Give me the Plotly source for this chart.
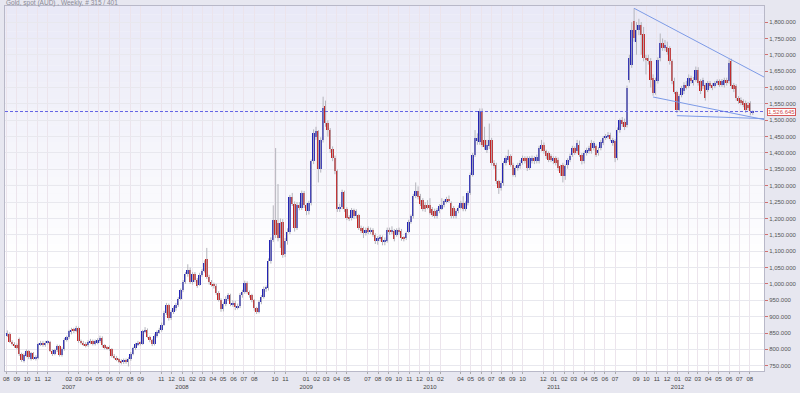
import plotly.graph_objects as go
import pandas as pd

# ---------------- data (weekly Gold spot in AUD) ----------------
first_week = "2006-08-04"

open_ = [842,848,822,818,812,832,785,766,780,794,772,788,772,774,815,821,812,820,823,796,
 786,797,810,783,800,830,838,852,860,857,866,825,820,818,812,822,826,817,822,826,
 836,812,806,808,800,780,775,770,766,760,767,762,770,787,803,815,820,818,855,860,
 838,828,815,840,852,858,876,910,935,895,915,925,935,955,980,1005,1030,1042,1005,1030,
 1012,998,1028,1040,1075,1020,1005,998,995,972,952,922,938,955,966,938,943,928,932,965,
 975,1003,975,965,950,926,915,945,960,985,988,1070,1135,1195,1185,1140,1190,1090,1130,1160,
 1266,1245,1172,1242,1232,1278,1240,1222,1246,1374,1448,1466,1350,1440,1545,1492,1470,1412,1385,1344,
 1228,1235,1280,1228,1202,1200,1226,1206,1210,1172,1170,1155,1170,1160,1165,1150,1130,1138,1142,1128,
 1132,1165,1158,1162,1150,1166,1162,1140,1140,1160,1190,1206,1268,1283,1268,1257,1242,1242,1242,1228,
 1222,1208,1222,1230,1240,1252,1258,1247,1232,1207,1222,1232,1248,1228,1248,1278,1334,1395,1436,1435,
 1527,1440,1410,1420,1440,1370,1364,1313,1293,1308,1369,1378,1390,1364,1334,1354,1360,1370,1384,1384,
 1354,1374,1384,1374,1374,1412,1425,1405,1400,1390,1374,1384,1380,1359,1364,1329,1362,1378,1395,1415,
 1405,1425,1395,1375,1400,1405,1430,1415,1420,1400,1415,1430,1446,1450,1456,1430,1436,1385,1470,1500,
 1495,1486,1624,1670,1802,1740,1777,1790,1765,1690,1690,1680,1629,1583,1619,1690,1736,1720,1725,1720,
 1680,1619,1585,1532,1578,1588,1609,1604,1629,1614,1624,1654,1619,1604,1609,1593,1614,1609,1604,1614,
 1619,1609,1609,1624,1619,1680,1609,1604,1568,1563,1558,1553,1548,1553,1523]

high = [858,852,828,822,818,836,790,788,800,798,792,792,782,820,826,826,826,828,826,800,
 802,815,814,806,835,842,860,866,866,872,870,830,826,822,828,832,830,830,834,842,
 840,816,810,812,804,786,780,774,770,772,772,776,792,808,820,826,824,860,868,864,
 842,832,846,858,866,882,918,942,940,920,932,942,960,986,1012,1036,1060,1050,1036,1036,
 1018,1034,1046,1072,1110,1028,1012,1004,1000,978,956,944,962,972,970,950,948,940,972,982,
 1010,1008,980,970,954,930,950,966,992,995,1078,1142,1240,1415,1305,1200,1198,1140,1170,1272,
 1278,1252,1250,1250,1285,1284,1246,1254,1380,1472,1480,1470,1448,1572,1560,1500,1476,1420,1392,1350,
 1245,1288,1285,1234,1210,1232,1230,1228,1214,1178,1175,1172,1176,1172,1170,1155,1146,1150,1148,1142,
 1172,1172,1176,1168,1170,1172,1168,1146,1160,1196,1212,1275,1310,1298,1275,1262,1250,1256,1262,1235,
 1230,1232,1244,1262,1258,1266,1270,1252,1238,1228,1240,1254,1268,1252,1284,1340,1400,1470,1460,1536,
 1536,1480,1440,1490,1446,1378,1370,1318,1315,1375,1392,1410,1396,1370,1360,1370,1378,1392,1390,1390,
 1390,1392,1390,1395,1422,1440,1432,1410,1405,1396,1390,1390,1386,1364,1370,1365,1384,1398,1422,1420,
 1440,1438,1400,1406,1416,1422,1440,1436,1426,1418,1440,1452,1458,1464,1462,1446,1442,1478,1505,1510,
 1505,1606,1700,1800,1842,1800,1810,1800,1785,1700,1700,1690,1640,1630,1692,1765,1750,1745,1740,1726,
 1686,1630,1590,1580,1605,1616,1620,1640,1636,1632,1664,1662,1625,1630,1614,1620,1620,1614,1620,1625,
 1625,1626,1630,1630,1686,1688,1614,1610,1574,1570,1564,1560,1556,1558,1530]

low = [838,820,812,805,800,780,762,760,776,770,766,768,766,770,810,808,808,815,792,780,
 782,792,778,778,796,824,832,846,850,852,820,815,810,806,808,816,812,812,816,820,
 806,800,798,795,775,770,764,758,754,755,756,748,765,782,798,810,812,814,850,834,
 822,810,812,836,848,854,872,905,888,890,908,918,930,950,975,1000,1022,1000,998,1005,
 988,994,1022,1035,1015,998,992,986,966,946,915,916,932,948,932,930,920,922,926,958,
 970,970,958,944,918,908,910,938,955,976,980,1062,1128,1140,1130,1110,1080,1082,1120,1152,
 1238,1160,1165,1225,1226,1232,1210,1212,1240,1366,1440,1310,1340,1432,1480,1450,1400,1375,1335,1220,
 1220,1228,1220,1195,1192,1194,1198,1200,1165,1155,1140,1148,1152,1152,1144,1122,1120,1130,1118,1118,
 1126,1150,1152,1130,1144,1150,1132,1130,1134,1155,1184,1200,1262,1258,1238,1222,1220,1228,1212,1205,
 1200,1200,1216,1226,1234,1246,1248,1200,1200,1200,1216,1228,1222,1222,1240,1272,1328,1388,1425,1425,
 1418,1410,1400,1412,1362,1352,1305,1275,1285,1300,1362,1372,1358,1328,1326,1346,1352,1364,1368,1345,
 1348,1368,1366,1368,1368,1405,1398,1382,1372,1372,1366,1362,1346,1330,1310,1318,1352,1372,1388,1394,
 1398,1388,1365,1368,1392,1398,1398,1408,1388,1392,1408,1424,1440,1444,1436,1422,1372,1378,1462,1480,
 1470,1478,1615,1660,1740,1700,1760,1700,1680,1640,1670,1600,1575,1578,1612,1680,1712,1712,1700,1670,
 1610,1580,1522,1526,1570,1580,1594,1598,1612,1606,1618,1606,1580,1596,1560,1586,1598,1592,1598,1608,
 1602,1602,1600,1606,1612,1596,1586,1560,1550,1546,1540,1522,1530,1515,1516]

close = [850,824,818,810,804,785,768,782,794,776,788,772,774,815,821,812,821,823,796,786,
 797,810,783,800,830,838,855,860,857,866,825,820,815,812,822,826,817,825,828,836,
 812,806,803,800,780,775,770,763,760,767,762,770,787,803,815,820,817,855,860,838,
 828,815,840,852,858,876,910,935,895,915,925,935,955,980,1005,1030,1042,1005,1030,1012,
 995,1028,1040,1065,1020,1005,998,994,972,952,922,938,955,966,938,943,928,932,965,975,
 1003,975,965,950,926,915,945,960,985,988,1070,1135,1195,1150,1140,1185,1088,1130,1160,1266,
 1245,1172,1240,1232,1278,1240,1222,1246,1374,1460,1466,1350,1440,1537,1492,1470,1412,1385,1344,1228,
 1235,1280,1228,1202,1200,1226,1206,1222,1172,1162,1155,1166,1160,1165,1150,1130,1140,1143,1128,1135,
 1165,1158,1165,1138,1165,1158,1140,1138,1155,1190,1206,1268,1283,1265,1243,1228,1228,1232,1218,1212,
 1208,1225,1237,1242,1252,1258,1254,1207,1207,1222,1232,1248,1228,1248,1278,1334,1395,1446,1446,1527,
 1425,1418,1425,1440,1370,1360,1313,1293,1308,1369,1384,1390,1364,1334,1354,1364,1370,1384,1374,1354,
 1384,1384,1374,1389,1415,1425,1405,1390,1380,1380,1384,1370,1354,1339,1329,1359,1378,1392,1415,1400,
 1430,1395,1375,1400,1410,1415,1405,1430,1395,1410,1435,1446,1450,1456,1442,1440,1385,1470,1500,1490,
 1480,1598,1690,1777,1751,1777,1792,1760,1690,1685,1680,1624,1583,1624,1685,1736,1720,1730,1710,1680,
 1619,1585,1532,1573,1598,1609,1600,1629,1620,1624,1654,1614,1588,1624,1568,1614,1604,1599,1614,1619,
 1609,1619,1624,1614,1675,1604,1594,1568,1558,1553,1548,1532,1538,1527,1526.645]

last_price = 1526.645
last_label = "1,526.645"

# trend lines drawn on the chart
trend_upper_x = ["2011-08-26", "2012-09-12"]
trend_upper_y = [1842, 1632]
trend_lower_x = ["2011-10-21", "2012-09-12"]
trend_lower_y = [1571, 1502]
trend_flat_x = ["2011-12-30", "2012-09-12"]
trend_flat_y = [1514, 1505]

# x-axis tick labels (months shown on the reference axis)
tick_dates = ["2006-08","2006-09","2006-10","2006-11","2006-12",
 "2007-02","2007-03","2007-04","2007-05","2007-06","2007-07","2007-08","2007-09","2007-11","2007-12",
 "2008-01","2008-02","2008-03","2008-04","2008-05","2008-06","2008-07","2008-08","2008-10","2008-11",
 "2009-01","2009-02","2009-03","2009-04","2009-05","2009-07","2009-08","2009-09","2009-10","2009-11","2009-12",
 "2010-01","2010-02","2010-04","2010-05","2010-06","2010-07","2010-08","2010-09","2010-10","2010-12",
 "2011-01","2011-02","2011-03","2011-04","2011-05","2011-06","2011-07","2011-09","2011-10","2011-11","2011-12",
 "2012-01","2012-02","2012-03","2012-04","2012-05","2012-06","2012-07","2012-08"]
year_label_at = {"2007-02": "2007", "2008-01": "2008", "2009-01": "2009",
                 "2010-01": "2010", "2011-01": "2011", "2012-01": "2012"}

title_text = "Gold, spot (AUD) , Weekly, # 315 / 401"

# ---------------- build figure ----------------
n = len(close)
dates = pd.date_range(first_week, periods=n, freq="7D")

wx, wy = [], []
for d, h, l in zip(dates, high, low):
    wx += [d, d, None]
    wy += [l, h, None]

UP = "#2424b4"
DOWN = "#c42424"
body_base = [min(o, c) for o, c in zip(open_, close)]
body_h = [max(abs(c - o), 2.5) for o, c in zip(open_, close)]
body_col = [UP if c >= o else DOWN for o, c in zip(open_, close)]

fig = go.Figure()
fig.add_trace(go.Scatter(x=wx, y=wy, mode="lines",
                         line=dict(color="#b4b4bc", width=1), hoverinfo="skip"))
fig.add_trace(go.Bar(x=dates, y=body_h, base=body_base,
                     width=5.6 * 86400000,
                     marker=dict(color=body_col, line=dict(width=0))))

for tx, ty in [(trend_upper_x, trend_upper_y), (trend_lower_x, trend_lower_y),
               (trend_flat_x, trend_flat_y)]:
    fig.add_trace(go.Scatter(x=tx, y=ty, mode="lines",
                             line=dict(color="#7c9ae6", width=1), hoverinfo="skip"))

# background gradient in plot area
shapes = []
N = 30
for k in range(N):
    y0 = 0.3 + 0.7 * k / N
    y1 = 0.3 + 0.7 * (k + 1) / N
    a = 0.75 * (k + 1) / N
    shapes.append(dict(type="rect", xref="paper", yref="paper", x0=0, x1=1, y0=y0, y1=y1,
                       fillcolor=f"rgba(226,226,244,{a:.3f})", line=dict(width=0), layer="below"))
# last price dashed line
shapes.append(dict(type="line", xref="paper", yref="y", x0=0, x1=1,
                   y0=last_price, y1=last_price,
                   line=dict(color="#6464e4", width=1, dash="3px,2px"), layer="above"))

ticktext = []
for t in tick_dates:
    m = t[-2:]
    ticktext.append(m + "<br>" + year_label_at[t] if t in year_label_at else m)

FONT = "Liberation Sans, Arial, sans-serif"

fig.update_layout(
    width=800, height=393,
    margin=dict(l=3, r=36, t=6, b=20),
    paper_bgcolor="#e7e7f0",
    plot_bgcolor="#ffffff",
    showlegend=False,
    bargap=0,
    shapes=shapes,
    font=dict(family=FONT, size=6, color="#555"),
    xaxis=dict(type="date", range=["2006-07-28", "2012-09-12"],
               tickvals=tick_dates, ticktext=ticktext, tickangle=0,
               tickfont=dict(size=6, color="#444"),
               showgrid=True, gridcolor="#ece4ec", gridwidth=1,
               ticks="outside", ticklen=2, tickcolor="#aaa",
               showline=True, linecolor="#b8b8c8", mirror=True, zeroline=False,
               fixedrange=True),
    yaxis=dict(side="right", range=[734, 1849], tick0=750, dtick=50,
               tickformat=",.3f", tickfont=dict(size=6, color="#555"),
               showgrid=True, gridcolor="#e8e8ee", gridwidth=1,
               ticks="outside", ticklen=3, tickcolor="#d07070",
               showline=True, linecolor="#b8b8c8", mirror=True, zeroline=False,
               fixedrange=True),
    annotations=[
        dict(text=title_text, xref="paper", yref="paper", x=0, y=1,
             xanchor="left", yanchor="bottom", yshift=-3, xshift=-1, showarrow=False,
             font=dict(size=6.5, color="#8a8a96", family=FONT)),
        dict(text=last_label, xref="paper", yref="y", x=1, y=last_price,
             xanchor="left", yanchor="middle", xshift=3, showarrow=False,
             bgcolor="#ffffff", bordercolor="#d85a5a", borderwidth=1, borderpad=0,
             font=dict(size=6, color="#d04a4a", family=FONT)),
    ],
)

fig.write_html("out.html", config={"displayModeBar": False})
